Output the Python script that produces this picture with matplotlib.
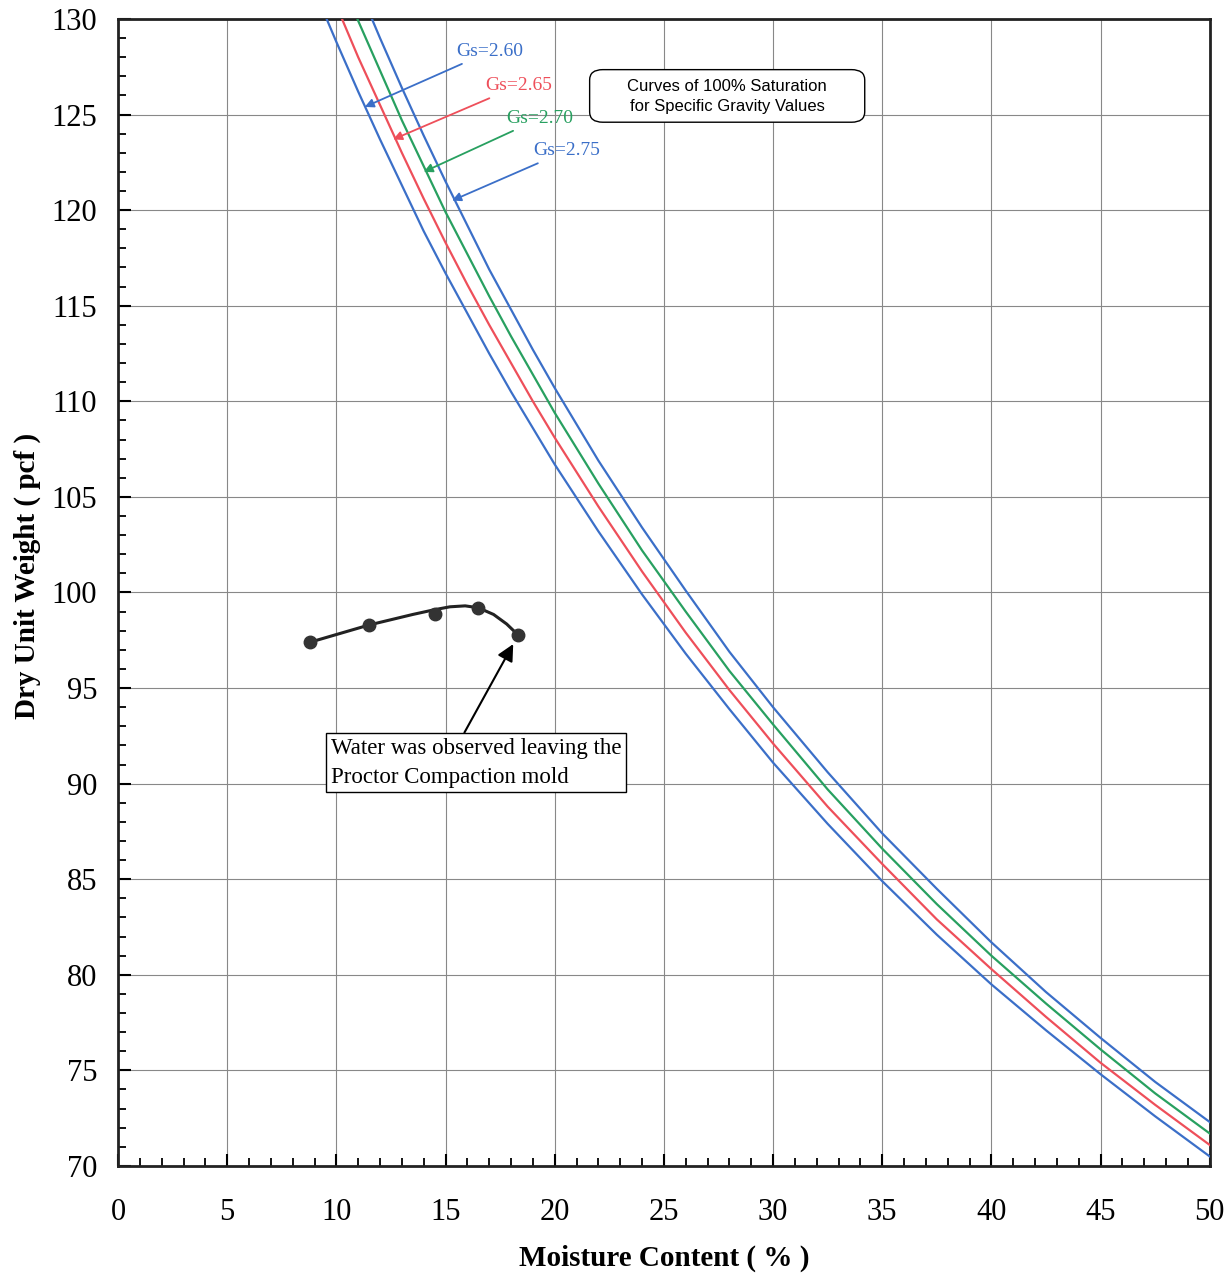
import numpy as np
import matplotlib.pyplot as plt
from matplotlib.patches import FancyBboxPatch

# Courbes de saturation 100 %
moisture = [9, 10, 11, 12, 13, 14, 15, 16, 17, 18, 19, 20, 22, 24, 26, 28, 30,
            32.5, 35, 37.5, 40, 42.5, 45, 47.5, 50]
gs_260 = [131.5, 128.8, 126.2, 123.7, 121.3, 118.9, 116.7, 114.6, 112.5, 110.5, 108.6, 106.7,
          103.2, 99.9, 96.8, 93.9, 91.1, 87.9, 84.9, 82.1, 79.5, 77.1, 74.8, 72.6, 70.5]
gs_265 = [133.5, 130.7, 128.0, 125.5, 123.0, 120.6, 118.3, 116.1, 114.0, 112.0, 110.0, 108.1,
          104.5, 101.1, 97.9, 94.9, 92.1, 88.8, 85.8, 82.9, 80.3, 77.8, 75.4, 73.2, 71.1]
gs_270 = [135.5, 132.7, 129.9, 127.3, 124.7, 122.3, 119.9, 117.7, 115.5, 113.4, 111.4, 109.4,
          105.7, 102.2, 99.0, 95.9, 93.1, 89.7, 86.6, 83.7, 81.0, 78.5, 76.1, 73.8, 71.7]
gs_275 = [137.6, 134.6, 131.7, 129.0, 126.4, 123.9, 121.5, 119.2, 116.9, 114.8, 112.7, 110.7,
          106.9, 103.4, 100.1, 96.9, 94.0, 90.6, 87.4, 84.5, 81.7, 79.1, 76.7, 74.4, 72.3]
gs_labels = ["Gs=2.60", "Gs=2.65", "Gs=2.70", "Gs=2.75"]
gs_colors = ["#3b6fc8", "#ee4f5a", "#28a060", "#3b6fc8"]

# Essai Proctor
proctor_w = [8.8, 11.5, 14.5, 16.5, 18.3]
proctor_d = [97.4, 98.3, 98.9, 99.2, 97.8]
trend_w = [8.8, 11.5, 13.5, 14.5, 15.2, 15.9, 16.5, 17.2, 17.8, 18.3]
trend_d = [97.4, 98.3, 98.85, 99.1, 99.25, 99.3, 99.2, 98.85, 98.35, 97.8]

plt.rcParams["font.family"] = ["Liberation Serif", "DejaVu Serif"]

fig = plt.figure(figsize=(12.27, 12.74), dpi=100)
ax = fig.add_axes([0.0962, 0.0848, 0.8897, 0.9003])

for vals, col in zip([gs_260, gs_265, gs_270, gs_275], gs_colors):
    ax.plot(moisture, vals, color=col, lw=1.6, zorder=3)

ax.plot(trend_w, trend_d, color="#222222", lw=2.2, zorder=4)
ax.plot(proctor_w, proctor_d, "o", color="#333333", ms=9, zorder=5)

# étiquettes Gs avec flèches
label_xy = [(15.5, 128.3), (16.8, 126.5), (17.8, 124.8), (19.0, 123.1)]
tip_xy = [(11.3, 125.4), (12.6, 123.7), (14.0, 122.0), (15.3, 120.5)]
for lab, col, (tx, ty), (px, py) in zip(gs_labels, gs_colors, label_xy, tip_xy):
    ax.annotate(lab, xy=(px, py), xytext=(tx, ty), color=col, fontsize=14,
                ha="left", va="center",
                arrowprops=dict(arrowstyle="-|>", color=col, lw=1.3,
                                mutation_scale=13, shrinkA=2, shrinkB=0), zorder=6)

box = FancyBboxPatch((21.6, 124.6), 12.6, 2.75, boxstyle="round,pad=0,rounding_size=0.6",
                     fc="white", ec="black", lw=1.0, zorder=6, mutation_aspect=0.9)
ax.add_patch(box)
ax.text(27.9, 125.95, "Curves of 100% Saturation\nfor Specific Gravity Values",
        ha="center", va="center", fontsize=12, linespacing=1.4,
        family=["Liberation Sans Narrow", "Liberation Sans"], zorder=7)

ax.annotate("Water was observed leaving the\nProctor Compaction mold",
            xy=(18.1, 97.3), xytext=(9.75, 91.1), fontsize=16.5,
            ha="left", va="center", linespacing=1.5,
            bbox=dict(boxstyle="square,pad=0.2", fc="white", ec="black", lw=1.0),
            arrowprops=dict(arrowstyle="-|>", color="black", lw=1.5,
                            mutation_scale=25, shrinkA=0, shrinkB=0,
                            relpos=(0.45, 1.0)), zorder=7)

ax.set_xlim(0, 50)
ax.set_ylim(70, 130)
ax.set_xticks(np.arange(0, 51, 5))
ax.set_yticks(np.arange(70, 131, 5))
ax.set_xticks(np.arange(0, 51, 1), minor=True)
ax.set_yticks(np.arange(70, 131, 1), minor=True)
ax.tick_params(which="major", direction="in", length=9, width=1.5, labelsize=22)
ax.tick_params(which="minor", direction="in", length=6, width=1.3)
ax.tick_params(axis="x", pad=23)
ax.tick_params(axis="y", pad=15)
ax.grid(which="major", color="#888888", lw=0.8)
for s in ax.spines.values():
    s.set_linewidth(2)
    s.set_color("#222222")

ax.set_xlabel("Moisture Content ( % )", fontsize=21, fontweight="bold", labelpad=13)
ax.set_ylabel("Dry Unit Weight ( pcf )", fontsize=21, fontweight="bold")
ax.yaxis.set_label_coords(-0.071, 0.514)

fig.savefig("out.png", dpi=100)
